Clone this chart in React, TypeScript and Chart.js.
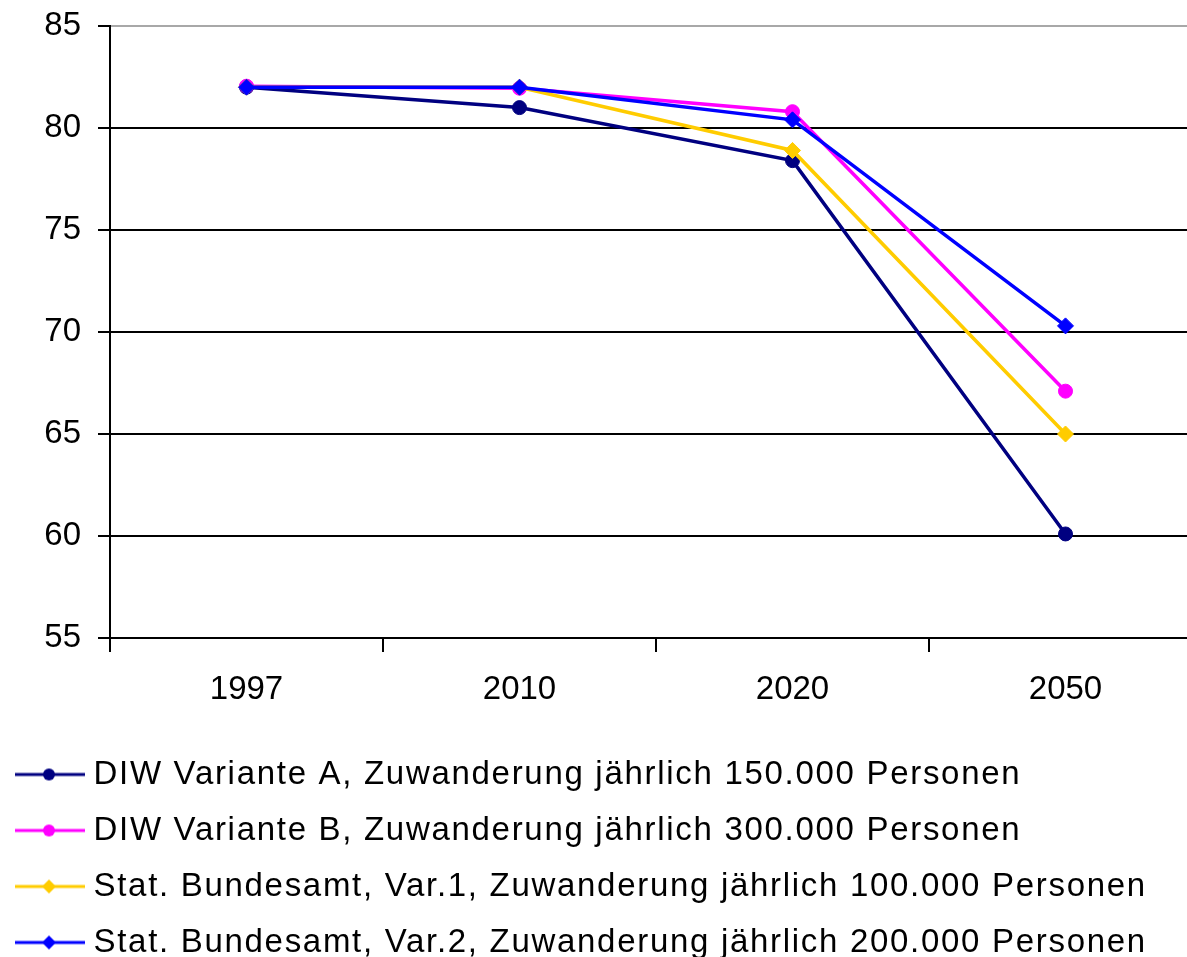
import React, { useEffect, useRef } from "react";
import { Chart, registerables } from "chart.js";

Chart.register(...registerables);

const categories = ["1997", "2010", "2020", "2050"];
const seriesNames = [
  "DIW Variante A, Zuwanderung jährlich 150.000 Personen",
  "DIW Variante B, Zuwanderung jährlich 300.000 Personen",
  "Stat. Bundesamt, Var.1, Zuwanderung jährlich 100.000 Personen",
  "Stat. Bundesamt, Var.2, Zuwanderung jährlich 200.000 Personen",
];
const diwVarianteA = [82.0, 81.0, 78.4, 60.1];
const diwVarianteB = [82.05, 81.95, 80.8, 67.1];
const statVar1 = [82.0, 82.0, 78.9, 65.0];
const statVar2 = [82.0, 82.0, 80.4, 70.3];
const yMin = 55;
const yMax = 85;
const yStep = 5;

const colors = ["#000080", "#FF00FF", "#FFCC00", "#0000FF"];
const markers = ["circle", "circle", "rectRot", "rectRot"];
const FONT = "'Liberation Sans', Arial, sans-serif";

function legendIcon(color: string, marker: string): HTMLCanvasElement {
  const c = document.createElement("canvas");
  c.width = 70;
  c.height = 18;
  const g = c.getContext("2d")!;
  g.strokeStyle = color;
  g.lineWidth = 3;
  g.beginPath();
  g.moveTo(0, 9);
  g.lineTo(70, 9);
  g.stroke();
  g.fillStyle = color;
  g.beginPath();
  if (marker === "circle") {
    g.arc(34, 9, 6, 0, Math.PI * 2);
  } else {
    g.moveTo(34, 2);
    g.lineTo(41, 9);
    g.lineTo(34, 16);
    g.lineTo(27, 9);
    g.closePath();
  }
  g.fill();
  return c;
}

const legendSpacingPlugin = {
  id: "legendSpacing",
  beforeDraw(chart: any) {
    const legend = chart.legend;
    if (legend && !legend.__spaced) {
      const orig = legend.draw;
      legend.draw = function (...args: any[]) {
        const ctx = chart.ctx;
        ctx.save();
        ctx.letterSpacing = "1.7px";
        orig.apply(legend, args);
        ctx.restore();
      };
      legend.__spaced = true;
    }
  },
};

export default function App() {
  const ref = useRef<HTMLCanvasElement | null>(null);

  useEffect(() => {
    if (!ref.current) return;
    const series = [diwVarianteA, diwVarianteB, statVar1, statVar2];
    const icons = colors.map((c, i) => legendIcon(c, markers[i]));
    const orders = [4, 3, 2, 1];
    const chart = new Chart(ref.current, {
      type: "line",
      data: {
        labels: categories,
        datasets: series.map((d, i) => ({
          label: seriesNames[i],
          data: d,
          borderColor: colors[i],
          backgroundColor: colors[i],
          borderWidth: 3.5,
          tension: 0,
          fill: false,
          pointStyle: markers[i] as any,
          pointRadius: markers[i] === "circle" ? 7 : 8,
          pointBorderWidth: 1,
          pointBorderColor: colors[i],
          pointBackgroundColor: colors[i],
          order: orders[i],
        })),
      },
      options: {
        animation: false,
        responsive: false,
        maintainAspectRatio: false,
        events: [],
        layout: { padding: { top: 26, left: 0, right: 0, bottom: 0 } },
        plugins: {
          title: { display: false },
          tooltip: { enabled: false },
          legend: {
            display: true,
            position: "bottom",
            align: "start",
            labels: {
              usePointStyle: true,
              pointStyleWidth: 54,
              padding: 23,
              color: "#000",
              font: { family: FONT, size: 33 },
              generateLabels: (ch: any) =>
                ch.data.datasets.map((ds: any, i: number) => ({
                  text: ds.label,
                  fillStyle: colors[i],
                  strokeStyle: colors[i],
                  lineWidth: 0,
                  pointStyle: icons[i],
                  datasetIndex: i,
                  hidden: false,
                  fontColor: "#000",
                })),
            },
          },
        },
        scales: {
          x: {
            type: "category",
            offset: true,
            afterFit: (s: any) => {
              s.height = 97;
              s.paddingLeft = 0;
              s.paddingRight = 0;
            },
            grid: {
              display: true,
              offset: true,
              drawOnChartArea: false,
              drawTicks: true,
              tickLength: 14,
              color: "#000",
              tickColor: "#000",
              lineWidth: 2,
              tickWidth: 2,
            },
            border: { display: true, color: "#000", width: 2 },
            ticks: {
              color: "#000",
              padding: 18,
              maxRotation: 0,
              autoSkip: false,
              font: { family: FONT, size: 33 },
            },
          },
          y: {
            min: yMin,
            max: yMax,
            afterFit: (s: any) => {
              s.width = 110;
              s.paddingTop = 0;
              s.paddingBottom = 0;
            },
            grid: {
              color: (c: any) => (c.tick && c.tick.value === yMax ? "#a8a8a8" : "#000"),
              tickColor: "#000",
              lineWidth: 2,
              tickWidth: 2,
              tickLength: 12,
              drawTicks: true,
            },
            border: { display: true, color: "#000", width: 2 },
            ticks: {
              stepSize: yStep,
              color: "#000",
              padding: 17,
              font: { family: FONT, size: 33 },
            },
          },
        },
      },
      plugins: [legendSpacingPlugin],
    } as any);
    chart.draw();
    return () => chart.destroy();
  }, []);

  return (
    <div
      style={{
        position: "fixed",
        left: 0,
        top: 0,
        width: 1187,
        height: 957,
        overflow: "hidden",
        background: "#fff",
      }}
    >
      <canvas ref={ref} width={1211} height={969} style={{ width: 1211, height: 969, display: "block" }} />
    </div>
  );
}
